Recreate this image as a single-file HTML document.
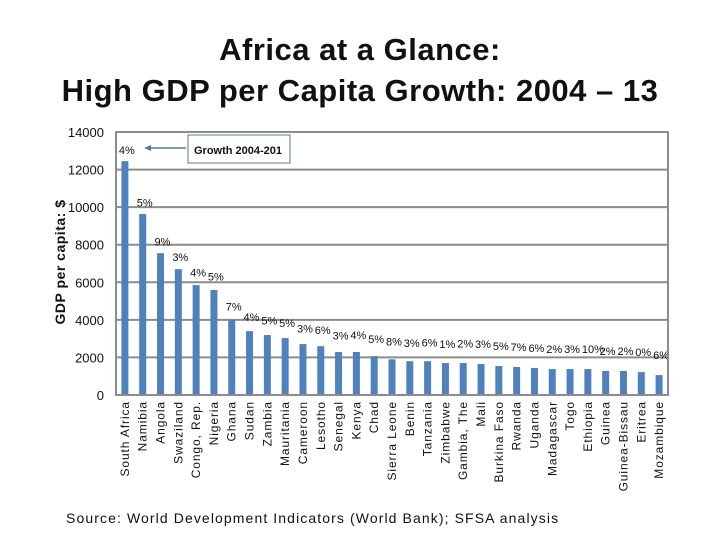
<!DOCTYPE html>
<html><head><meta charset="utf-8"><style>
body{margin:0;background:#fff;}
svg text{font-family:"Liberation Sans",sans-serif;}
</style></head><body>
<svg id="chart" width="720" height="540">
<text x="360" y="60" text-anchor="middle" font-size="31" font-weight="bold" fill="#111" letter-spacing="0.5">Africa at a Glance:</text>
<text x="360" y="101" text-anchor="middle" font-size="31" font-weight="bold" fill="#111" letter-spacing="0.5">High GDP per Capita Growth: 2004 – 13</text>
<text transform="translate(65,262) rotate(-90)" text-anchor="middle" font-size="14" font-weight="bold" fill="#111" letter-spacing="0.5">GDP per capita: $</text>
<g id="grid"></g><g id="bars"></g><g id="labels"></g><g id="xlabels"></g>
<rect x="116" y="132" width="552" height="263" fill="none" stroke="#8c8c8c" stroke-width="2"/>
<rect x="188" y="135" width="102" height="28" fill="#fff" stroke="#5a7a90" stroke-width="1"/>
<text x="194" y="154" font-size="11" font-weight="bold" fill="#111">Growth 2004-201</text>
<line x1="186" y1="148" x2="148" y2="148" stroke="#5a7a90" stroke-width="1.5"/>
<polygon points="144,148 151,145 151,151" fill="#5a7a90"/>
<text x="66" y="523" font-size="14" fill="#111" letter-spacing="1.1">Source: World Development Indicators (World Bank); SFSA analysis</text>
</svg>
<script>
const countries=["South Africa","Namibia","Angola","Swaziland","Congo, Rep.","Nigeria","Ghana","Sudan","Zambia","Mauritania","Cameroon","Lesotho","Senegal","Kenya","Chad","Sierra Leone","Benin","Tanzania","Zimbabwe","Gambia, The","Mali","Burkina Faso","Rwanda","Uganda","Madagascar","Togo","Ethiopia","Guinea","Guinea-Bissau","Eritrea","Mozambique"];
const gdp=[12450,9630,7550,6700,5850,5590,3990,3400,3190,3030,2710,2600,2290,2290,2070,1900,1800,1800,1700,1700,1650,1540,1490,1440,1380,1380,1380,1280,1280,1220,1060];
const growth=[4,5,9,3,4,5,7,4,5,5,3,6,3,4,5,8,3,6,1,2,3,5,7,6,2,3,10,2,2,0,6];
const yTicks=[0,2000,4000,6000,8000,10000,12000,14000];
const NS="http://www.w3.org/2000/svg";
const x0=116,x1=668,y0=395,y1=132,yMax=14000;
const y=v=>y0-(v/yMax)*(y0-y1);
const step=(x1-x0)/countries.length;
const xc=i=>x0+step*(i+0.5);
function mk(tag,attrs,parent){const e=document.createElementNS(NS,tag);for(const k in attrs)e.setAttribute(k,attrs[k]);document.getElementById(parent).appendChild(e);return e;}
yTicks.forEach(t=>{
  const l=mk('line',{x1:x0,x2:x1,y1:y(t),y2:y(t),stroke:'#8c8c8c','stroke-width':2},'grid');
  
  
  const tx=mk('text',{x:104,y:y(t)+5,'text-anchor':'end','font-size':13,fill:'#111'},'grid');
  tx.textContent=t;
  
  
});
countries.forEach((c,i)=>{
  const b=mk('rect',{x:xc(i)-3.5,y:y(gdp[i]),width:7,height:y0-y(gdp[i]),fill:'#4f81bd'},'bars');
  
  
  const lb=mk('text',{x:xc(i)-6,y:y(gdp[i])-7-Math.min(9,i*0.45),'font-size':11,fill:'#111'},'labels');
  lb.textContent=growth[i]+'%';
  
  
  const xl=mk('text',{transform:`translate(${xc(i)+4},401) rotate(-90)`,'text-anchor':'end','font-size':12,fill:'#111','letter-spacing':'0.9'},'xlabels');
  xl.textContent=c;
  
  
});
</script>
</body></html>
